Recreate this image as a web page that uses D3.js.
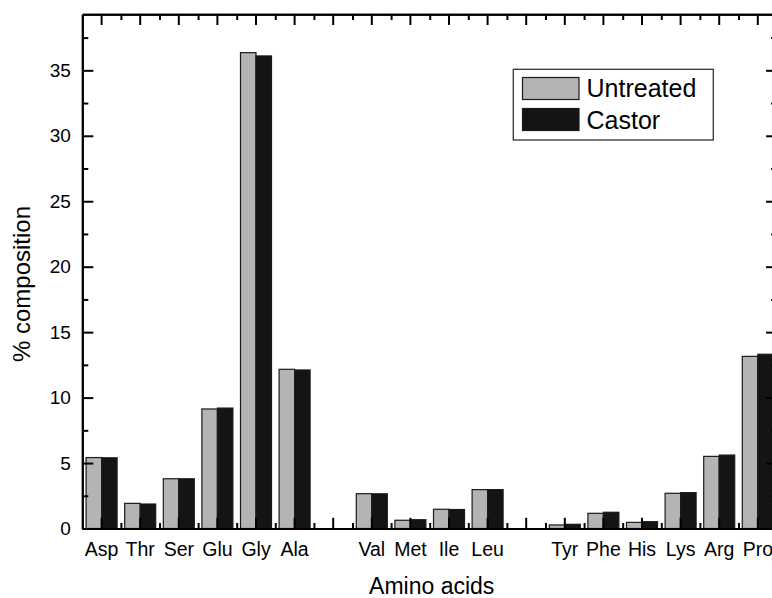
<!DOCTYPE html>
<html>
<head>
<meta charset="utf-8">
<script src="https://cdn.jsdelivr.net/npm/d3@7"></script>
<style>
  html, body { margin: 0; padding: 0; background: #fff; overflow: hidden; }
  svg { display: block; font-family: Arial, "Liberation Sans", sans-serif; }
</style>
</head>
<body>
<svg id="chart" width="772" height="598"></svg>
<script>
// ---- data ----
const categories = ["Asp","Thr","Ser","Glu","Gly","Ala","","Val","Met","Ile","Leu","","Tyr","Phe","His","Lys","Arg","Pro"];
const untreated  = [5.42, 1.92, 3.80, 9.13, 36.35, 12.16, null, 2.66, 0.63, 1.47, 2.97, null, 0.27, 1.16, 0.47, 2.69, 5.51, 13.15];
const castor     = [5.40, 1.87, 3.80, 9.20, 36.10, 12.11, null, 2.65, 0.67, 1.45, 2.97, null, 0.32, 1.24, 0.52, 2.74, 5.61, 13.31];
const seriesNames = ["Untreated", "Castor"];
const seriesColors = ["#b4b4b4", "#141414"];
const yMajorTicks = [0, 5, 10, 15, 20, 25, 30, 35];
const yMinorTicks = [2.5, 7.5, 12.5, 17.5, 22.5, 27.5, 32.5, 37.5];
const yMax = 39.28;
const xTitle = "Amino acids";
const yTitle = "% composition";

// ---- layout ----
const pL = 82.3, pR = 777.1, pT = 14.3, pB = 528.5;
const svg = d3.select("#chart");

const x = d3.scaleBand().domain(d3.range(categories.length)).range([pL, pR]).padding(0);
const xSub = d3.scaleBand().domain(seriesNames).range([0, x.bandwidth()]).paddingInner(0).paddingOuter(0.245);
const xEdge = d3.scaleLinear().domain([0, categories.length]).range([pL, pR]);
const y = d3.scaleLinear().domain([0, yMax]).range([pB, pT]);

// ---- bars ----
const rows = categories.map((c, i) => ({ i, c, vals: [untreated[i], castor[i]] }));
const groups = svg.append("g").selectAll("g")
  .data(rows.filter(r => r.c !== ""))
  .join("g")
  .attr("transform", d => `translate(${x(d.i)},0)`);
groups.selectAll("rect")
  .data(d => d.vals.map((v, k) => ({ v, k })))
  .join("rect")
  .attr("x", d => xSub(seriesNames[d.k]))
  .attr("width", xSub.bandwidth())
  .attr("y", d => y(d.v))
  .attr("height", d => y(0) - y(d.v))
  .attr("fill", d => seriesColors[d.k])
  .attr("stroke", "#1a1a1a")
  .attr("stroke-width", 1.2);

// ---- axes ----
function styleAxis(g, fs) {
  g.selectAll(".domain").attr("stroke", "#000").attr("stroke-width", 2);
  g.selectAll(".tick line").attr("stroke", "#000").attr("stroke-width", 2);
  g.selectAll("text").attr("fill", "#000").attr("font-size", fs).attr("font-family", "Arial, 'Liberation Sans', sans-serif");
}

const xMinorVals = d3.range(1, categories.length);
// bottom
svg.append("g").attr("transform", `translate(0,${pB})`)
  .call(d3.axisBottom(xEdge).tickValues(xMinorVals).tickSizeInner(-5.5).tickSizeOuter(0).tickFormat(""))
  .call(g => styleAxis(g, 0));
svg.append("g").attr("transform", `translate(0,${pB})`)
  .call(d3.axisBottom(x).tickSizeInner(-10.7).tickSizeOuter(0).tickPadding(13.8).tickFormat(i => categories[i]))
  .call(g => styleAxis(g, "19.5px"));

// top
svg.append("g").attr("transform", `translate(0,${pT})`)
  .call(d3.axisTop(xEdge).tickValues(xMinorVals).tickSizeInner(-5.7).tickSizeOuter(0).tickFormat(""))
  .call(g => styleAxis(g, 0));
svg.append("g").attr("transform", `translate(0,${pT})`)
  .call(d3.axisTop(x).tickSizeInner(-10.7).tickSizeOuter(0).tickFormat(""))
  .call(g => styleAxis(g, 0));

// left
svg.append("g").attr("transform", `translate(${pL},0)`)
  .call(d3.axisLeft(y).tickValues(yMinorTicks).tickSizeInner(-6).tickSizeOuter(0).tickFormat(""))
  .call(g => styleAxis(g, 0));
svg.append("g").attr("transform", `translate(${pL},0)`)
  .call(d3.axisLeft(y).tickValues(yMajorTicks).tickSizeInner(-11).tickSizeOuter(0).tickPadding(11.5).tickFormat(d3.format("d")))
  .call(g => styleAxis(g, "19px"));

// right
svg.append("g").attr("transform", `translate(${pR},0)`)
  .call(d3.axisRight(y).tickValues(yMinorTicks).tickSizeInner(-6).tickSizeOuter(0).tickFormat(""))
  .call(g => styleAxis(g, 0));
svg.append("g").attr("transform", `translate(${pR},0)`)
  .call(d3.axisRight(y).tickValues(yMajorTicks).tickSizeInner(-11).tickSizeOuter(0).tickFormat(""))
  .call(g => styleAxis(g, 0));

// ---- titles ----
svg.append("text")
  .attr("x", (pL + pR) / 2 + 2).attr("y", 594)
  .attr("text-anchor", "middle").attr("font-size", "23px").attr("fill", "#000")
  .text(xTitle);
svg.append("text")
  .attr("transform", `translate(29.5,284) rotate(-90)`)
  .attr("text-anchor", "middle").attr("font-size", "24px").attr("fill", "#000")
  .text(yTitle);

// ---- legend ----
const lg = svg.append("g");
lg.append("rect").attr("x", 513.3).attr("y", 69.3).attr("width", 200).attr("height", 70.7)
  .attr("fill", "#fff").attr("stroke", "#333").attr("stroke-width", 1.3);
seriesNames.forEach((name, k) => {
  lg.append("rect").attr("x", 522.5).attr("y", 77.5 + k * 31).attr("width", 56.5).attr("height", 22)
    .attr("fill", seriesColors[k]).attr("stroke", "#1a1a1a").attr("stroke-width", 1.2);
  lg.append("text").attr("x", 586.5).attr("y", 96.7 + k * 32.3)
    .attr("font-size", "25px").attr("fill", "#000").text(name);
});
</script>
</body>
</html>
